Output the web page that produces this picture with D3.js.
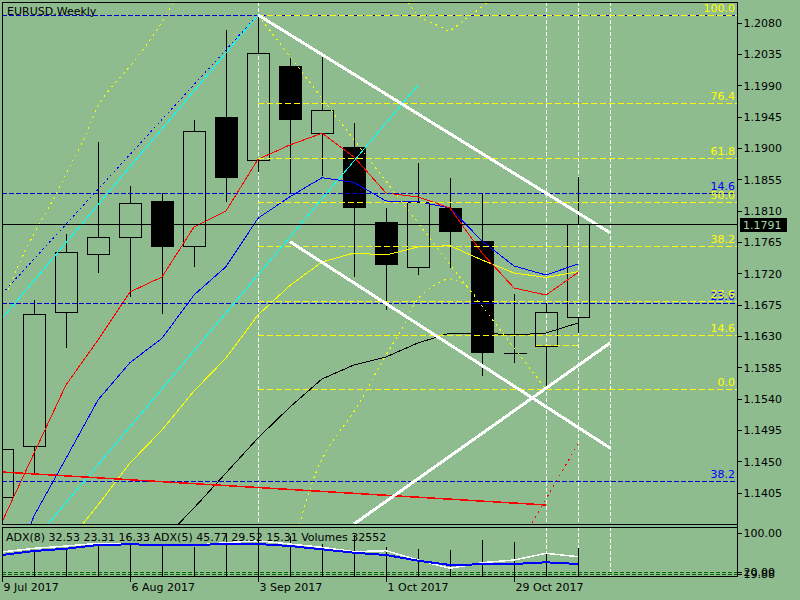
<!DOCTYPE html>
<html><head><meta charset="utf-8">
<script src="https://cdn.jsdelivr.net/npm/d3@7"></script>
<style>
html,body{margin:0;padding:0;background:#8FBC8F;overflow:hidden;}
svg{display:block;font-family:"DejaVu Sans",sans-serif;}
</style></head><body>
<svg id="c" width="800" height="600"></svg>
<script>
// ---------- data ----------
const dates = ["9 Jul 2017","16 Jul 2017","23 Jul 2017","30 Jul 2017","6 Aug 2017","13 Aug 2017","20 Aug 2017","27 Aug 2017","3 Sep 2017","10 Sep 2017","17 Sep 2017","24 Sep 2017","1 Oct 2017","8 Oct 2017","15 Oct 2017","22 Oct 2017","29 Oct 2017","5 Nov 2017","12 Nov 2017"];
const open  = [1.13988,1.14725,1.16641,1.17474,1.17718,1.18239,1.17589,1.19446,1.18824,1.20178,1.19212,1.19015,1.17938,1.17287,1.18134,1.17660,1.16060,1.16152,1.16569];
const high  = [1.14750,1.16817,1.17765,1.19087,1.18455,1.18358,1.19403,1.20695,1.20911,1.20289,1.20303,1.19355,1.18134,1.18781,1.18565,1.18354,1.16904,1.16770,1.18580];
const low   = [1.13900,1.14333,1.16124,1.17209,1.16865,1.16612,1.17296,1.18219,1.18660,1.18350,1.18598,1.17152,1.16674,1.17176,1.17281,1.15730,1.15917,1.15535,1.16348];
const close = [1.14677,1.16612,1.17502,1.17718,1.18206,1.17597,1.19240,1.18588,1.20361,1.19421,1.19542,1.18157,1.17339,1.18225,1.17813,1.16075,1.16060,1.16641,1.17910];
const maRed    = [1.13629,1.14614,1.15597,1.16243,1.16932,1.17148,1.17866,1.18096,1.18838,1.19044,1.19212,1.18871,1.18354,1.18297,1.18139,1.17492,1.16990,1.16889,1.17210];
const maBlue   = [1.12509,1.13715,1.14543,1.15381,1.15917,1.16267,1.16889,1.17296,1.17991,1.18301,1.18574,1.18505,1.18239,1.18229,1.18139,1.17665,1.17306,1.17176,1.17334];
const maYellow = [1.12078,1.12650,1.13299,1.13873,1.14476,1.14950,1.15510,1.15984,1.16602,1.17026,1.17363,1.17492,1.17464,1.17579,1.17597,1.17392,1.17205,1.17141,1.17224];
const maBlack  = [null,null,null,null,1.12868,1.13356,1.13830,1.14333,1.14835,1.15281,1.15683,1.15884,1.15999,1.16200,1.16343,1.16343,1.16315,1.16343,1.16487];
const volumes  = [30000,27850,32550,36400,37250,37250,34450,49350,57900,47000,37250,48150,34450,31350,30550,42300,39950,27000,32552];
const adxWhite = [61.0,68.6,73.3,78.9,77.4,74.8,74.8,80.1,84.2,77.4,70.6,61.7,63.7,44.6,27.6,39.1,44.6,58.3,51.4];
const adxBlue  = [54.9,63.1,67.8,75.4,76.8,75.4,75.4,77.4,77.4,73.3,66.5,59.6,54.9,43.2,34.4,35.8,36.4,39.9,36.4];
const adxLevels = [21.0,15.7];
const priceTicks = [1.2080,1.2035,1.1990,1.1945,1.1900,1.1855,1.1810,1.1765,1.1720,1.1675,1.1630,1.1585,1.1540,1.1495,1.1450,1.1405];
const indTickLabels = [[100,"100.00"],[20.6,"20.00"],[16.5,"19.88"]];
const dateTickIdx = [0,4,8,12,16];
const vGridIdx = [8,17,18,19];
const lastPrice = 1.1791;
// fibonacci retracements
const fibYellowHigh = 1.20911, fibYellowLow = 1.15535, fibYellowStart = 8;
const fibYellowLevels = [0,14.6,23.6,38.2,50,61.8,76.4,100];
const fibBlueTop = 1.20911, fibBlueBottom = 1.03376;
const fibBlueLevels = [0,14.6,23.6,38.2];
// drawn objects, [bar, price]
const whiteLines = [[[8,1.20911],[19,1.17784]],[[9,1.17655],[19,1.14692]],[[11,1.13600],[19,1.16200]]];
const cyanLines = [[[0,1.16550],[8,1.20911]],[[1,1.13360],[13,1.19905]]];
const blueDashDiag = [[0,1.16904],[8,1.20911]];
const redTrend = [[0,1.14347],[17,1.13873]];
const redDotted = [[16,1.13170],[18,1.14749]];
const yellowFan = [[8,1.20911],[17,1.15535]];
const yellowShort = [[16.7,1.16157],[18,1.16157]];
const arcTopLeft = [[0.19,1.16961],[0.56,1.17363],[1.03,1.17794],[1.59,1.18254],[2.06,1.18684],[2.5,1.19072],[3.06,1.19647],[3.56,1.19948],[4.09,1.20221],[4.84,1.20695],[5.31,1.21054],[5.56,1.21270]];
const arcTop = [[12.59,1.21169],[12.75,1.21054],[13.06,1.20882],[13.44,1.20796],[13.78,1.20724],[13.97,1.20681],[14.16,1.20738],[14.53,1.20868],[14.91,1.20997],[15.25,1.21126]];
const arcBottom = [[9.25,1.13514],[9.72,1.14232],[10.16,1.14663],[11.09,1.15281],[11.91,1.15956],[12.53,1.16430],[12.97,1.16817],[13.53,1.17033],[14.0,1.17119],[14.47,1.17033],[14.88,1.16817]];

// ---------- layout ----------
const W=800,H=600,L=2,R=737,T=2,B=524,IT=527,IB=576;
const BG="#8FBC8F", FONT="DejaVu Sans";
const x = d3.scaleLinear().domain([0,1]).range([2,34]);
const y = d3.scaleLinear().domain([1.13600,1.21097]).range([B,T]);
const yA = d3.scaleLinear().domain([20,100]).range([572,533]);
const yV = d3.scaleLinear().domain([0,32552]).range([IB,548.3]);

const svg = d3.select("#c").attr("shape-rendering","crispEdges");
svg.append("rect").attr("width",W).attr("height",H).attr("fill",BG);
const defs = svg.append("defs");
defs.append("clipPath").attr("id","cm").append("rect").attr("x",L).attr("y",T).attr("width",R-L).attr("height",B-T);
defs.append("clipPath").attr("id","ci").append("rect").attr("x",L).attr("y",IT).attr("width",R-L).attr("height",IB-IT);
const gm = svg.append("g").attr("clip-path","url(#cm)");
const gi = svg.append("g").attr("clip-path","url(#ci)");

const P = d=>[x(d[0]),y(d[1])];
const pathLine = d3.line().x(d=>x(d[0])).y(d=>y(d[1]));
const px = v=>Math.round(v)+0.5;

// vertical dashed grid
vGridIdx.forEach(i=>{
  [[gm,T,B],[gi,IT,IB]].forEach(([g,a,b])=>{
    g.append("line").attr("x1",px(x(i))).attr("x2",px(x(i))).attr("y1",a).attr("y2",b)
     .attr("stroke","#fff").attr("stroke-dasharray","4,2");
  });
});

// candles
const idx = d3.range(dates.length);
const hw = 11;
idx.forEach(i=>{
  const cx = px(x(i));
  const o=open[i], c=close[i];
  const top = Math.round(y(Math.max(o,c))), bot = Math.round(y(Math.min(o,c)));
  const hi = Math.round(y(high[i])), lo = Math.round(y(low[i]));
  gm.append("line").attr("x1",cx).attr("x2",cx).attr("y1",hi).attr("y2",top).attr("stroke","#000");
  gm.append("line").attr("x1",cx).attr("x2",cx).attr("y1",bot).attr("y2",lo).attr("stroke","#000");
  if (top===bot) {
    gm.append("line").attr("x1",cx-hw).attr("x2",cx+hw+1).attr("y1",top+0.5).attr("y2",top+0.5).attr("stroke","#000");
  } else if (c>o) {
    gm.append("rect").attr("x",cx-hw).attr("y",top+0.5).attr("width",2*hw).attr("height",bot-top)
      .attr("fill","none").attr("stroke","#000");
  } else {
    gm.append("rect").attr("x",cx-hw-0.5).attr("y",top).attr("width",2*hw+1).attr("height",bot-top+1)
      .attr("fill","#000");
  }
});

// moving averages
const maLine = d3.line().defined(d=>d[1]!=null).x(d=>x(d[0])).y(d=>y(d[1]));
[[maBlack,"#000"],[maYellow,"#FFFF00"],[maBlue,"#0000FF"],[maRed,"#FF0000"]].forEach(([arr,col])=>{
  gm.append("path").attr("d",maLine(arr.map((v,i)=>[i,v]))).attr("fill","none").attr("stroke",col).attr("stroke-width",1);
});

// fibonacci levels
const hLine = (g,x1,yv,col,dash)=>g.append("line").attr("x1",x1).attr("x2",R).attr("y1",px(y(yv))).attr("y2",px(y(yv)))
  .attr("stroke",col).attr("stroke-dasharray",dash);
fibBlueLevels.forEach(l=>{
  hLine(gm,L,fibBlueTop-(fibBlueTop-fibBlueBottom)*l/100,"#0000CD","5,2");
});
fibYellowLevels.forEach(l=>{
  hLine(gm,x(fibYellowStart),fibYellowLow+(fibYellowHigh-fibYellowLow)*l/100,"#FFFF00","6,3");
});
gm.append("path").attr("d",pathLine(yellowShort)).attr("stroke","#FFFF00").attr("stroke-dasharray","6,3").attr("fill","none");

// drawn trend objects
gm.append("path").attr("d",pathLine(blueDashDiag)).attr("stroke","#0000FF").attr("stroke-dasharray","2,3").attr("fill","none");
cyanLines.forEach(l=>gm.append("path").attr("d",pathLine(l)).attr("stroke","#00FFFF").attr("fill","none"));
[arcTopLeft,arcTop,arcBottom,yellowFan].forEach(a=>{
  gm.append("path").attr("d",d3.line().x(d=>x(d[0])).y(d=>y(d[1])).curve(d3.curveCatmullRom)(a))
    .attr("stroke","#FFFF00").attr("stroke-dasharray","2,4").attr("fill","none");
});
gm.append("path").attr("d",pathLine(redTrend)).attr("stroke","#FF0000").attr("stroke-width",1.5).attr("fill","none");
gm.append("path").attr("d",pathLine(redDotted)).attr("stroke","#FF0000").attr("stroke-dasharray","2,4").attr("fill","none");
whiteLines.forEach(l=>gm.append("path").attr("d",pathLine(l)).attr("stroke","#FFFFFF").attr("stroke-width",3).attr("fill","none"));

// current price line
gm.append("line").attr("x1",L).attr("x2",R).attr("y1",px(y(lastPrice))).attr("y2",px(y(lastPrice))).attr("stroke","#000");

// ---------- indicator panel ----------
adxLevels.forEach(v=>{
  gi.append("line").attr("x1",L).attr("x2",R).attr("y1",px(yA(v))).attr("y2",px(yA(v)))
    .attr("stroke","#006400").attr("stroke-dasharray","4,2");
});
idx.forEach(i=>{
  gi.append("line").attr("x1",px(x(i))).attr("x2",px(x(i))).attr("y1",IB).attr("y2",Math.round(yV(volumes[i])))
    .attr("stroke","#000").attr("stroke-width",1);
});
const adxLine = d3.line().x((d,i)=>x(i)).y(d=>yA(d));
gi.append("path").attr("d",adxLine(adxWhite)).attr("stroke","#FFFFFF").attr("stroke-width",1.5).attr("fill","none");
gi.append("path").attr("d",adxLine(adxBlue)).attr("stroke","#0000FF").attr("stroke-width",2).attr("fill","none");

// ---------- frames ----------
svg.append("rect").attr("x",L+0.5).attr("y",T+0.5).attr("width",R-L).attr("height",B-T).attr("fill","none").attr("stroke","#000");
svg.append("rect").attr("x",L+0.5).attr("y",IT+0.5).attr("width",R-L).attr("height",IB-IT).attr("fill","none").attr("stroke","#000");
svg.append("line").attr("x1",R+0.5).attr("x2",R+0.5).attr("y1",T).attr("y2",IB+1).attr("stroke","#000");

// ---------- axes ----------
const ax = svg.append("g").attr("transform",`translate(${R+0.5},0)`)
  .call(d3.axisRight(y).tickValues(priceTicks).tickSize(4).tickPadding(2).tickFormat(d=>d.toFixed(4)));
ax.select(".domain").remove();
ax.selectAll("line").attr("stroke","#000");
ax.selectAll("text").attr("font-size",11).attr("font-family",FONT).attr("fill","#000").attr("dy","0.36em");

const ix = svg.append("g").attr("transform",`translate(${R+0.5},0)`);
indTickLabels.forEach(([v,t])=>{
  const yy = Math.round(yA(v))+0.5;
  ix.append("line").attr("x1",0).attr("x2",4).attr("y1",yy).attr("y2",yy).attr("stroke","#000");
  ix.append("text").attr("x",6).attr("y",yy).attr("dy","0.36em").attr("font-size",11).attr("font-family",FONT).attr("fill","#000").text(t);
});

const bx = svg.append("g").attr("transform",`translate(0,${IB})`)
  .call(d3.axisBottom(x).tickValues(dateTickIdx).tickSize(6).tickFormat(i=>dates[i]));
bx.select(".domain").remove();
bx.selectAll("line").attr("stroke","#000");
bx.selectAll("text").attr("text-anchor","start").attr("x",1).attr("y",15).attr("dy",0)
  .attr("font-size",11).attr("font-family",FONT).attr("fill","#000");

// current price tag
const yc = y(lastPrice);
svg.append("rect").attr("x",740).attr("y",Math.round(yc)-6).attr("width",47).attr("height",14).attr("fill","#000");
svg.append("text").attr("x",743).attr("y",yc+1).attr("dy","0.36em").attr("font-size",11).attr("font-family",FONT)
  .attr("fill","#A8D8A8").text(lastPrice.toFixed(4));

// fib labels
const lab = (txt,yv,col)=>svg.append("text").attr("x",735).attr("y",Math.round(y(yv))-3).attr("text-anchor","end")
  .attr("font-size",11).attr("font-family",FONT).attr("fill",col).text(txt);
fibBlueLevels.filter(l=>l>0).forEach(l=>lab(l.toFixed(1),fibBlueTop-(fibBlueTop-fibBlueBottom)*l/100,"#0000FF"));
fibYellowLevels.forEach(l=>lab(l.toFixed(1),fibYellowLow+(fibYellowHigh-fibYellowLow)*l/100,"#FFFF00"));

// titles
svg.append("text").attr("x",7).attr("y",15).attr("font-size",11).attr("font-family",FONT).attr("fill","#000").text("EURUSD,Weekly");
svg.append("text").attr("x",6).attr("y",541).attr("font-size",11).attr("font-family",FONT).attr("fill","#000")
  .text("ADX(8) 32.53 23.31 16.33 ADX(5) 45.77 29.52 15.31 Volumes 32552");
</script></body></html>
